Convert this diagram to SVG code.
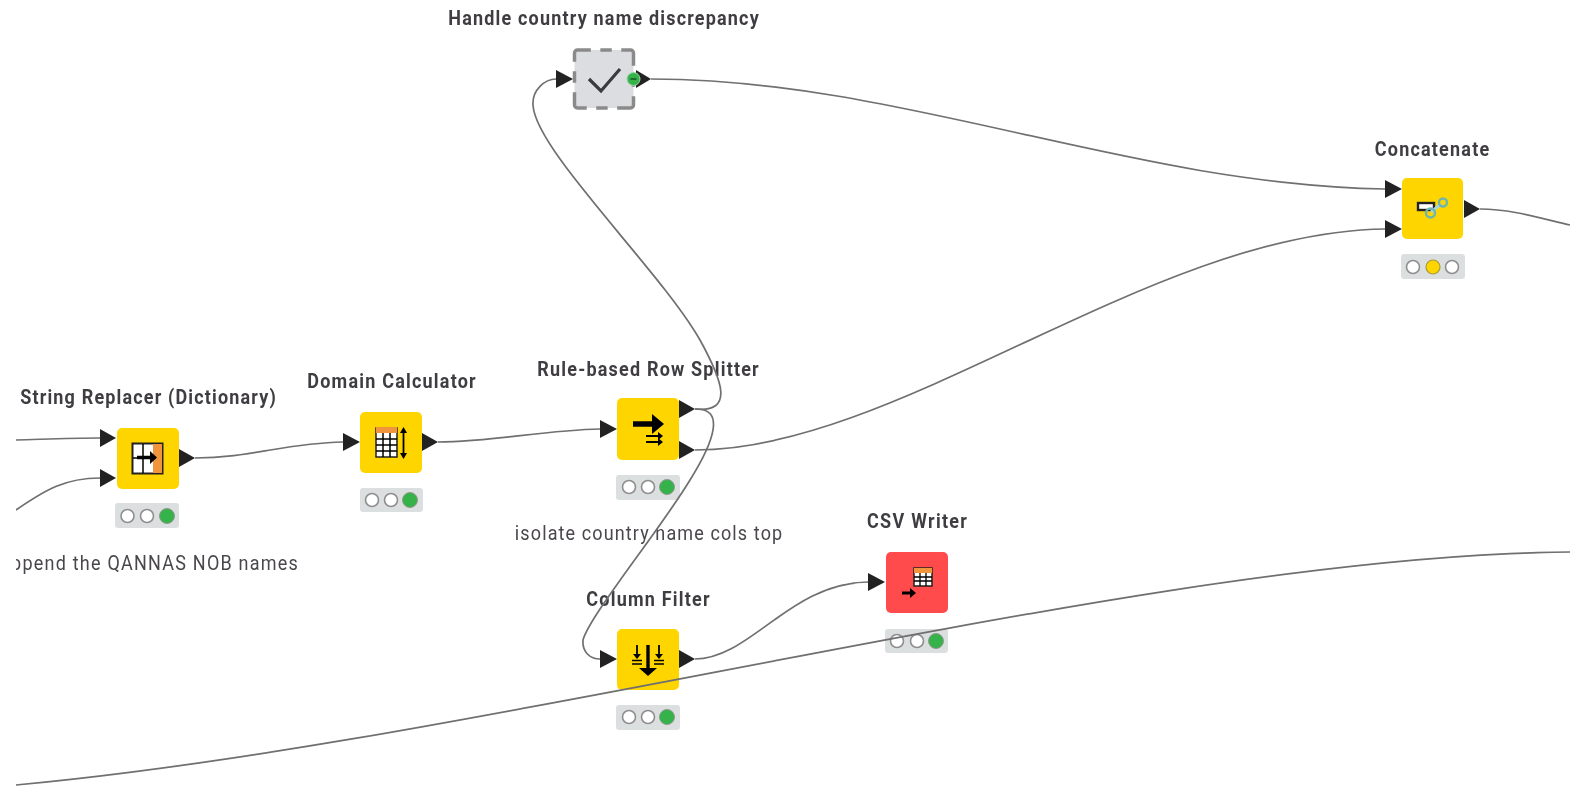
<svg xmlns="http://www.w3.org/2000/svg" width="1570" height="787" viewBox="0 0 1570 787">
<defs>
<style>
.lbl{font-family:Roboto,"Liberation Sans",sans-serif;font-weight:700;font-size:20px;fill:#3f3d42;text-anchor:middle}
.note{font-family:Roboto,"Liberation Sans",sans-serif;font-weight:400;font-size:20px;fill:#4a474c;text-anchor:middle}
.y{fill:#ffd500}
.r{fill:#ff4b4b}
.tl{fill:#dcdfe0}
.off{fill:#fff;stroke:#8e8e8e;stroke-width:1.6}
.g{fill:#36b24a;stroke:#8e9a8e;stroke-width:1}
.o{fill:#ffd500;stroke:#a89a3a;stroke-width:1.2}
.p{fill:#222}
.c{fill:none;stroke:#6f6f6f;stroke-width:1.7}
.k{stroke:#000;fill:none}
</style>
<clipPath id="view"><rect x="16" y="0" width="1554" height="787"/></clipPath>
<filter id="soft" x="-5%" y="-5%" width="110%" height="110%"><feGaussianBlur stdDeviation="0.45"/></filter>
</defs>
<rect width="1570" height="787" fill="#fff"/>
<g clip-path="url(#view)" filter="url(#soft)">

<g id="handle-country-name-discrepancy">
<text class="lbl" transform="translate(603.500 25) scale(.9 1)" textLength="345" lengthAdjust="spacing">Handle country name discrepancy</text>
<rect x="574.500" y="50" width="59" height="58" rx="3" fill="#dcdde0" stroke="#8a8a8a" stroke-width="3.500" pathLength="240" stroke-dasharray="28 10 12 10" stroke-dashoffset="14"/>
<path d="M589,79 L601,91 L620,69" fill="none" stroke="#3a3a3a" stroke-width="3.200"/>
<polygon class="p" points="556,70 573,79 556,88"/>
<polygon class="p" points="636,70 651,79 636,88"/>
<circle cx="633.500" cy="79" r="6.500" fill="#36b24a" stroke="#9fd8a8" stroke-width="1"/>
<rect x="630.500" y="78.200" width="6" height="1.600" fill="#1a5a28"/>
</g>

<g id="concatenate">
<text class="lbl" transform="translate(1432 156) scale(.9 1)" textLength="127" lengthAdjust="spacing">Concatenate</text>
<rect class="y" x="1402" y="178" width="61" height="61" rx="5"/>
<rect x="1418" y="203" width="16" height="7" fill="#fff" stroke="#222" stroke-width="2.400"/>
<path d="M1431,212 L1441,204" stroke="#a8d4e0" stroke-width="3" fill="none"/>
<circle cx="1443" cy="202.500" r="4" fill="none" stroke="#6db6b0" stroke-width="2.400"/>
<circle cx="1430.500" cy="213" r="4.500" fill="none" stroke="#6db6b0" stroke-width="2.400"/>
<polygon class="p" points="1385,180 1402,189 1385,198"/>
<polygon class="p" points="1385,220 1402,229 1385,238"/>
<polygon class="p" points="1464,200 1480,209 1464,218"/>
<rect class="tl" x="1401" y="254" width="64" height="25" rx="3"/>
<circle class="off" cx="1413" cy="267" r="6.500"/><circle class="o" cx="1433" cy="267" r="7"/><circle class="off" cx="1452" cy="267" r="6.500"/>
</g>

<g id="string-replacer-dictionary">
<text class="lbl" transform="translate(148 404) scale(.9 1)" textLength="284" lengthAdjust="spacing">String Replacer (Dictionary)</text>
<rect class="y" x="117" y="428" width="62" height="61" rx="5"/>
<rect x="132.500" y="443.500" width="30" height="30" fill="#fff" stroke="#222" stroke-width="2"/>
<rect x="153" y="444" width="9" height="29" fill="#f0953a"/>
<path class="k" d="M143,444 V473 M133,458 H156" stroke-width="1.500"/>
<path d="M137,457.500 H152" stroke="#000" stroke-width="3.500"/>
<polygon points="150,451 157,457.500 150,464" fill="#000"/>
<polygon class="p" points="100,429 116,438 100,447"/>
<polygon class="p" points="100,469 116,478 100,487"/>
<polygon class="p" points="179,449 195,458 179,467"/>
<rect class="tl" x="115" y="503" width="64" height="25" rx="3"/>
<circle class="off" cx="127.500" cy="516" r="6.500"/><circle class="off" cx="147" cy="516" r="6.500"/><circle class="g" cx="167" cy="516" r="7.500"/>
<text class="note" transform="translate(148 570) scale(.9 1)" textLength="333" lengthAdjust="spacing">Append the QANNAS NOB names</text>
</g>

<g id="domain-calculator">
<text class="lbl" transform="translate(391.500 388) scale(.9 1)" textLength="187" lengthAdjust="spacing">Domain Calculator</text>
<rect class="y" x="360" y="412" width="62" height="61" rx="5"/>
<rect x="376" y="428" width="21" height="29" fill="#fff" stroke="#222" stroke-width="1.500"/>
<rect x="376" y="427" width="21" height="6" fill="#f0953a"/>
<path class="k" d="M376,439 H397 M376,445 H397 M376,451 H397 M383,433 V457 M390,433 V457" stroke-width="1.500"/>
<path class="k" d="M403.500,430 V456" stroke-width="1.800"/>
<polygon points="403.500,427 400,433 407,433" fill="#000"/>
<polygon points="403.500,459 400,453 407,453" fill="#000"/>
<polygon class="p" points="343,433 360,442 343,451"/>
<polygon class="p" points="422,433 438,442 422,451"/>
<rect class="tl" x="360" y="488" width="63" height="24" rx="3"/>
<circle class="off" cx="372" cy="500" r="6.500"/><circle class="off" cx="391" cy="500" r="6.500"/><circle class="g" cx="410" cy="500" r="7.500"/>
</g>

<g id="rule-based-row-splitter">
<text class="lbl" transform="translate(648 376) scale(.9 1)" textLength="246" lengthAdjust="spacing">Rule-based Row Splitter</text>
<rect class="y" x="617" y="398" width="62" height="62" rx="5"/>
<path d="M633,424 H658" stroke="#000" stroke-width="5.500"/>
<polygon points="652,414 664,424 652,434" fill="#000"/>
<path class="k" d="M646,436 H659 M646,442 H659" stroke-width="1.800"/>
<polygon points="658,432 663,436 658,440" fill="#000"/>
<polygon points="658,438 663,442 658,446" fill="#000"/>
<polygon class="p" points="600,420 617,429 600,438"/>
<polygon class="p" points="679,400 695,409 679,418"/>
<polygon class="p" points="679,441 695,450 679,459"/>
<rect class="tl" x="616" y="475" width="64" height="25" rx="3"/>
<circle class="off" cx="629" cy="487" r="6.500"/><circle class="off" cx="648" cy="487" r="6.500"/><circle class="g" cx="667" cy="487" r="7.500"/>
<text class="note" transform="translate(648.500 540) scale(.9 1)" textLength="297" lengthAdjust="spacing">isolate country name cols top</text>
</g>

<g id="column-filter">
<text class="lbl" transform="translate(648 606) scale(.9 1)" textLength="137" lengthAdjust="spacing">Column Filter</text>
<rect class="y" x="617" y="629" width="62" height="61" rx="5"/>
<path d="M648,645 V672" stroke="#000" stroke-width="3.400"/>
<polygon points="639,668 648,676 657,668" fill="#000"/>
<path class="k" d="M637,645 V656 M659,645 V656" stroke-width="1.800"/>
<polygon points="633,654 637,659 641,654" fill="#000"/>
<polygon points="655,654 659,659 663,654" fill="#000"/>
<path class="k" d="M632,660.500 H642 M632,664 H642 M654,660.500 H664 M654,664 H664" stroke-width="1.300"/>
<polygon class="p" points="600,650 617,659 600,668"/>
<polygon class="p" points="679,650 695,659 679,668"/>
<rect class="tl" x="616" y="705" width="64" height="25" rx="3"/>
<circle class="off" cx="629" cy="717" r="6.500"/><circle class="off" cx="648" cy="717" r="6.500"/><circle class="g" cx="667" cy="717" r="7.500"/>
</g>

<g id="csv-writer">
<text class="lbl" transform="translate(917 528) scale(.9 1)" textLength="111" lengthAdjust="spacing">CSV Writer</text>
<rect class="r" x="886" y="552" width="62" height="61" rx="5"/>
<rect x="914" y="568" width="18" height="18" fill="#fff" stroke="#222" stroke-width="1.500"/>
<rect x="914" y="568" width="18" height="5" fill="#f0953a"/>
<path class="k" d="M914,577 H932 M914,581 H932 M920,573 V586 M926,573 V586" stroke-width="1.300"/>
<path d="M902,593 H912" stroke="#000" stroke-width="3"/>
<polygon points="910,588 916,593 910,598" fill="#000"/>
<polygon class="p" points="868,573 885,582 868,591"/>
<rect class="tl" x="885" y="629" width="63" height="24" rx="3"/>
<circle class="off" cx="897" cy="641" r="6.500"/><circle class="off" cx="917" cy="641" r="6.500"/><circle class="g" cx="936" cy="641" r="7.500"/>
</g>

<g id="connectors">
<path class="c" d="M16,440 C50,439 70,438 100,438"/>
<path class="c" d="M16,510 C45,490 65,478 100,478"/>
<path class="c" d="M195,458 C250,458 285,443 343,442"/>
<path class="c" d="M438,442 C490,442 545,430 600,429"/>
<path class="c" d="M695,409 C735,413 722,380 700,340 C660,270 535,150 533,105 C532,90 545,79 556,79"/>
<path class="c" d="M695,409 C725,408 715,440 690,480 C660,530 590,615 583,640 C582,652 590,659 600,659"/>
<path class="c" d="M695,450 C900,450 1150,232 1385,229"/>
<path class="c" d="M651,79 C900,79 1130,185 1385,189"/>
<path class="c" d="M1480,209 C1510,209 1540,218 1570,225"/>
<path class="c" d="M695,659 C750,659 790,583 868,582"/>
<path class="c" d="M16,785 C500,740 1150,555 1570,552"/>
</g>
</g>
</svg>
